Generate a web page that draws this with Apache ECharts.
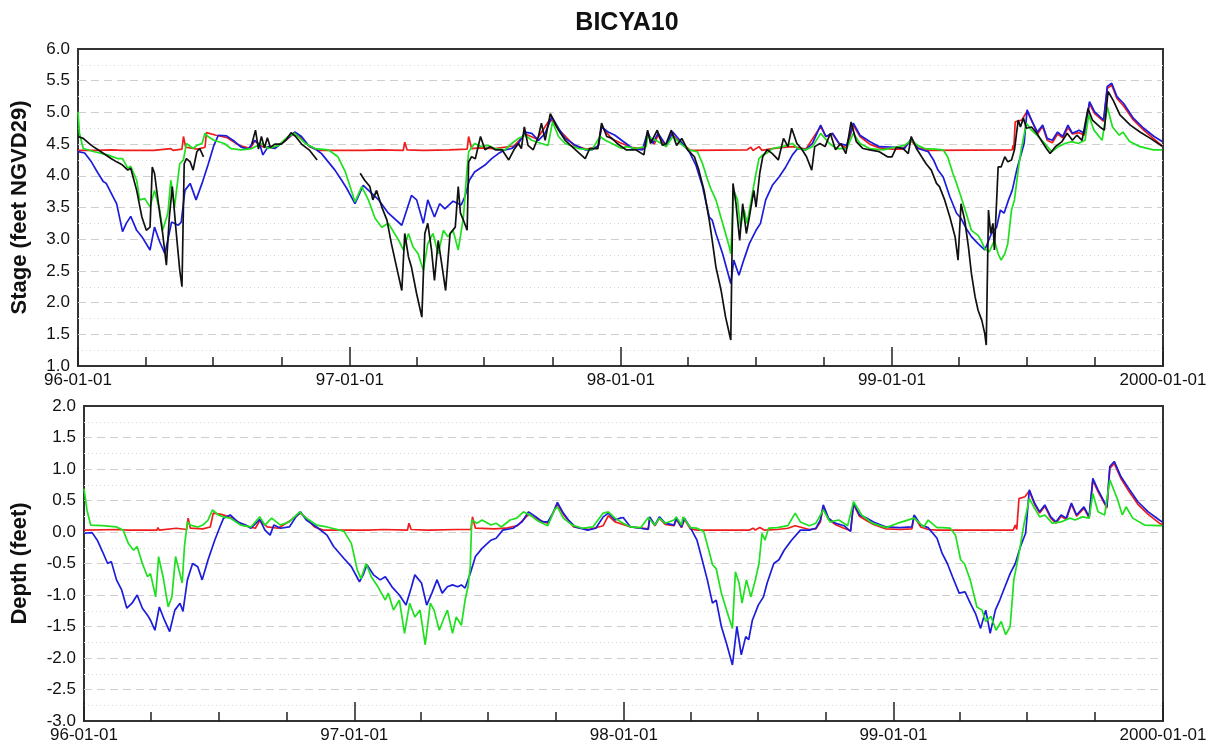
<!DOCTYPE html>
<html>
<head>
<meta charset="utf-8">
<title>BICYA10</title>
<script src="https://cdn.jsdelivr.net/npm/echarts@6.0.0/dist/echarts.min.js"></script>
<style>
  html, body { margin: 0; padding: 0; background: #fff; }
  #chart { width: 1217px; height: 752px; }
</style>
</head>
<body>
<div id="chart"></div>
<script>
// tick positions on the date axis
const yearTicks = ['1996-01-01', '1997-01-01', '1998-01-01', '1999-01-01', '2000-01-01']
const quarterTicks = [
  '1996-01-01', '1996-04-01', '1996-07-01', '1996-10-01',
  '1997-01-01', '1997-04-01', '1997-07-01', '1997-10-01',
  '1998-01-01', '1998-04-01', '1998-07-01', '1998-10-01',
  '1999-01-01', '1999-04-01', '1999-07-01', '1999-10-01', '2000-01-01',
]

// stage (feet NGVD29), top panel
const stageRed = [
  ['1996-01-01', 4.40], ['1996-01-25', 4.40], ['1996-02-15', 4.41], ['1996-03-01', 4.40], ['1996-04-09', 4.40],
  ['1996-04-10', 4.43], ['1996-04-12', 4.40], ['1996-05-05', 4.43], ['1996-05-08', 4.40], ['1996-05-20', 4.42],
  ['1996-05-22', 4.62], ['1996-05-25', 4.45], ['1996-06-10', 4.42], ['1996-06-20', 4.45], ['1996-06-22', 4.68],
  ['1996-07-05', 4.64], ['1996-07-20', 4.60], ['1996-08-05', 4.48], ['1996-08-20', 4.43], ['1996-08-26', 4.55],
  ['1996-09-05', 4.46], ['1996-09-20', 4.44], ['1996-10-06', 4.55], ['1996-10-19', 4.68], ['1996-10-28', 4.60],
  ['1996-11-08', 4.46], ['1996-11-20', 4.40], ['1996-12-31', 4.40], ['1997-01-20', 4.40], ['1997-02-10', 4.41],
  ['1997-03-14', 4.40], ['1997-03-16', 4.53], ['1997-03-19', 4.41], ['1997-04-09', 4.40], ['1997-04-10', 4.43],
  ['1997-04-12', 4.40], ['1997-05-15', 4.41], ['1997-06-08', 4.42], ['1997-06-10', 4.62], ['1997-06-14', 4.43],
  ['1997-06-25', 4.44], ['1997-07-15', 4.43], ['1997-08-10', 4.47], ['1997-08-25', 4.66], ['1997-09-10', 4.58],
  ['1997-09-28', 4.90], ['1997-10-10', 4.72], ['1997-10-30', 4.48], ['1997-11-15', 4.42], ['1997-12-01', 4.45],
  ['1997-12-06', 4.78], ['1997-12-20', 4.58], ['1997-12-31', 4.52], ['1998-01-15', 4.45], ['1998-02-01', 4.42],
  ['1998-02-06', 4.66], ['1998-02-15', 4.50], ['1998-02-20', 4.64], ['1998-03-03', 4.46], ['1998-03-10', 4.66],
  ['1998-03-25', 4.50], ['1998-04-05', 4.40], ['1998-06-20', 4.41], ['1998-06-25', 4.45], ['1998-06-28', 4.40],
  ['1998-07-06', 4.46], ['1998-07-10', 4.40], ['1998-07-20', 4.42], ['1998-08-01', 4.44], ['1998-08-20', 4.46],
  ['1998-09-07', 4.42], ['1998-09-27', 4.78], ['1998-10-04', 4.62], ['1998-10-13', 4.66], ['1998-10-22', 4.50],
  ['1998-11-01', 4.44], ['1998-11-10', 4.80], ['1998-11-19', 4.62], ['1998-12-02', 4.50], ['1998-12-15', 4.44],
  ['1998-12-31', 4.42], ['1999-01-15', 4.42], ['1999-01-27', 4.55], ['1999-02-05', 4.44], ['1999-02-20', 4.40],
  ['1999-06-12', 4.41], ['1999-06-13', 4.48], ['1999-06-14', 4.41], ['1999-06-16', 4.85], ['1999-06-25', 4.88],
  ['1999-07-02', 5.02], ['1999-07-09', 4.85], ['1999-07-16', 4.66], ['1999-07-23', 4.78], ['1999-07-29', 4.56],
  ['1999-08-05', 4.52], ['1999-08-12', 4.66], ['1999-08-19', 4.60], ['1999-08-26', 4.76], ['1999-09-01', 4.66],
  ['1999-09-10', 4.68], ['1999-09-17', 4.64], ['1999-09-24', 5.14], ['1999-10-01', 4.98], ['1999-10-13', 4.86],
  ['1999-10-18', 5.38], ['1999-10-24', 5.43], ['1999-10-31', 5.22], ['1999-11-09', 5.10], ['1999-11-22', 4.88],
  ['1999-12-06', 4.72], ['1999-12-20', 4.58], ['1999-12-31', 4.47],
]

const stageBlue = [
  ['1996-01-01', 4.38], ['1996-01-10', 4.36], ['1996-01-19', 4.22], ['1996-01-28', 4.04], ['1996-02-04', 3.91],
  ['1996-02-08', 3.88], ['1996-02-15', 3.72], ['1996-02-22', 3.56], ['1996-03-01', 3.12], ['1996-03-06', 3.25],
  ['1996-03-12', 3.36], ['1996-03-20', 3.14], ['1996-03-27', 3.04], ['1996-04-07', 2.83], ['1996-04-13', 3.19],
  ['1996-04-20', 2.96], ['1996-04-27', 2.77], ['1996-05-06', 3.27], ['1996-05-15', 3.22], ['1996-05-19', 3.27],
  ['1996-05-24', 3.77], ['1996-05-31', 3.88], ['1996-06-08', 3.62], ['1996-06-16', 3.88], ['1996-06-24', 4.17],
  ['1996-07-02', 4.48], ['1996-07-08', 4.64], ['1996-07-19', 4.63], ['1996-07-30', 4.54], ['1996-08-08', 4.45],
  ['1996-08-17', 4.42], ['1996-08-26', 4.56], ['1996-09-02', 4.48], ['1996-09-06', 4.33], ['1996-09-13', 4.46],
  ['1996-09-22', 4.43], ['1996-10-06', 4.56], ['1996-10-19', 4.69], ['1996-10-28', 4.62], ['1996-11-06', 4.48],
  ['1996-11-17', 4.41], ['1996-11-24', 4.35], ['1996-12-03', 4.22], ['1996-12-12', 4.09], ['1996-12-21', 3.93],
  ['1996-12-28', 3.80], ['1997-01-08', 3.56], ['1997-01-19', 3.85], ['1997-01-28', 3.75], ['1997-02-09', 3.62],
  ['1997-02-22', 3.41], ['1997-03-12', 3.22], ['1997-03-25', 3.69], ['1997-04-01', 3.62], ['1997-04-10', 3.25],
  ['1997-04-16', 3.62], ['1997-04-25', 3.35], ['1997-05-02', 3.56], ['1997-05-09', 3.48], ['1997-05-20', 3.60],
  ['1997-05-31', 3.54], ['1997-06-05', 3.67], ['1997-06-11', 3.93], ['1997-06-18', 4.06], ['1997-07-02', 4.17],
  ['1997-07-11', 4.27], ['1997-07-20', 4.35], ['1997-07-29', 4.41], ['1997-08-07', 4.43], ['1997-08-16', 4.51],
  ['1997-08-25', 4.69], ['1997-09-03', 4.67], ['1997-09-12', 4.56], ['1997-09-21', 4.67], ['1997-09-30', 4.93],
  ['1997-10-09', 4.75], ['1997-10-18', 4.59], ['1997-11-01', 4.48], ['1997-11-14', 4.41], ['1997-11-23', 4.41],
  ['1997-12-02', 4.48], ['1997-12-06', 4.77], ['1997-12-15', 4.69], ['1997-12-24', 4.64], ['1998-01-02', 4.56],
  ['1998-01-17', 4.43], ['1998-01-30', 4.41], ['1998-02-06', 4.69], ['1998-02-13', 4.51], ['1998-02-20', 4.67],
  ['1998-03-03', 4.48], ['1998-03-12', 4.69], ['1998-03-25', 4.51], ['1998-04-03', 4.38], ['1998-04-12', 4.17],
  ['1998-04-21', 3.83], ['1998-04-30', 3.35], ['1998-05-04', 3.30], ['1998-05-09', 3.09], ['1998-05-18', 2.77],
  ['1998-05-29', 2.30], ['1998-06-02', 2.67], ['1998-06-09', 2.43], ['1998-06-16', 2.69], ['1998-06-23', 2.93],
  ['1998-07-02', 3.14], ['1998-07-08', 3.25], ['1998-07-15', 3.62], ['1998-07-24', 3.85], ['1998-08-02', 3.98],
  ['1998-08-11', 4.14], ['1998-08-20', 4.33], ['1998-08-27', 4.43], ['1998-09-07', 4.41], ['1998-09-16', 4.51],
  ['1998-09-27', 4.80], ['1998-10-04', 4.62], ['1998-10-13', 4.67], ['1998-10-22', 4.51], ['1998-11-01', 4.48],
  ['1998-11-10', 4.83], ['1998-11-19', 4.64], ['1998-12-02', 4.54], ['1998-12-15', 4.46], ['1999-01-05', 4.45],
  ['1999-01-18', 4.43], ['1999-01-27', 4.59], ['1999-02-05', 4.43], ['1999-02-19', 4.38], ['1999-02-26', 4.25],
  ['1999-03-04', 4.09], ['1999-03-11', 3.98], ['1999-03-20', 3.67], ['1999-03-29', 3.41], ['1999-04-04', 3.33],
  ['1999-04-11', 3.17], ['1999-04-18', 3.04], ['1999-04-27', 2.93], ['1999-05-06', 2.83], ['1999-05-15', 3.09],
  ['1999-05-22', 3.19], ['1999-05-27', 3.46], ['1999-06-01', 3.41], ['1999-06-07', 3.62], ['1999-06-12', 3.77],
  ['1999-06-18', 4.09], ['1999-06-23', 4.30], ['1999-06-28', 4.51], ['1999-07-02', 5.04], ['1999-07-09', 4.85],
  ['1999-07-16', 4.69], ['1999-07-23', 4.80], ['1999-07-29', 4.59], ['1999-08-05', 4.56], ['1999-08-12', 4.69],
  ['1999-08-19', 4.62], ['1999-08-26', 4.80], ['1999-09-01', 4.67], ['1999-09-10', 4.72], ['1999-09-17', 4.67],
  ['1999-09-24', 5.17], ['1999-10-01', 5.01], ['1999-10-13', 4.88], ['1999-10-18', 5.41], ['1999-10-24', 5.46],
  ['1999-10-31', 5.25], ['1999-11-09', 5.14], ['1999-11-22', 4.91], ['1999-12-06', 4.75], ['1999-12-20', 4.62],
  ['1999-12-31', 4.54],
]

const stageGreen = [
  ['1996-01-01', 5.01], ['1996-01-03', 4.67], ['1996-01-08', 4.43], ['1996-01-23', 4.38], ['1996-02-10', 4.33],
  ['1996-02-24', 4.27], ['1996-03-01', 4.27], ['1996-03-08', 4.12], ['1996-03-12', 4.15], ['1996-03-20', 3.93],
  ['1996-03-24', 3.62], ['1996-03-31', 3.64], ['1996-04-07', 3.51], ['1996-04-13', 3.77], ['1996-04-20', 3.46],
  ['1996-04-24', 3.14], ['1996-05-01', 3.41], ['1996-05-05', 3.93], ['1996-05-10', 3.51], ['1996-05-17', 4.19],
  ['1996-05-22', 4.25], ['1996-05-26', 4.51], ['1996-06-04', 4.43], ['1996-06-09', 4.48], ['1996-06-16', 4.51],
  ['1996-06-20', 4.67], ['1996-06-24', 4.62], ['1996-07-02', 4.56], ['1996-07-16', 4.51], ['1996-07-25', 4.43],
  ['1996-08-08', 4.41], ['1996-08-22', 4.43], ['1996-09-04', 4.51], ['1996-09-13', 4.43], ['1996-09-27', 4.48],
  ['1996-10-10', 4.62], ['1996-10-19', 4.67], ['1996-11-02', 4.51], ['1996-11-15', 4.43], ['1996-12-03', 4.41],
  ['1996-12-16', 4.30], ['1996-12-26', 4.06], ['1997-01-08', 3.59], ['1997-01-17', 3.83], ['1997-01-26', 3.62],
  ['1997-02-04', 3.33], ['1997-02-13', 3.19], ['1997-02-22', 3.25], ['1997-03-08', 2.98], ['1997-03-14', 2.83],
  ['1997-03-21', 3.09], ['1997-03-27', 2.88], ['1997-04-03', 2.77], ['1997-04-10', 2.51], ['1997-04-16', 2.93],
  ['1997-04-23', 3.09], ['1997-04-30', 2.77], ['1997-05-07', 3.14], ['1997-05-13', 3.04], ['1997-05-20', 3.14],
  ['1997-05-27', 2.83], ['1997-06-03', 3.35], ['1997-06-07', 3.98], ['1997-06-10', 4.38], ['1997-06-18', 4.51],
  ['1997-06-27', 4.46], ['1997-07-06', 4.48], ['1997-07-15', 4.43], ['1997-07-29', 4.41], ['1997-08-07', 4.51],
  ['1997-08-16', 4.59], ['1997-08-25', 4.64], ['1997-09-03', 4.56], ['1997-09-16', 4.51], ['1997-09-25', 4.48],
  ['1997-10-01', 4.85], ['1997-10-09', 4.62], ['1997-10-18', 4.51], ['1997-11-05', 4.43], ['1997-11-23', 4.41],
  ['1997-12-04', 4.62], ['1997-12-11', 4.56], ['1997-12-20', 4.51], ['1998-01-02', 4.43], ['1998-01-08', 4.46],
  ['1998-01-21', 4.43], ['1998-02-04', 4.46], ['1998-02-06', 4.62], ['1998-02-17', 4.56], ['1998-03-03', 4.46],
  ['1998-03-12', 4.62], ['1998-03-25', 4.48], ['1998-04-03', 4.41], ['1998-04-14', 4.38], ['1998-04-21', 4.19],
  ['1998-04-28', 3.93], ['1998-05-02', 3.80], ['1998-05-09', 3.62], ['1998-05-18', 3.25], ['1998-05-27', 2.88],
  ['1998-05-29', 2.77], ['1998-06-02', 3.77], ['1998-06-07', 3.62], ['1998-06-11', 3.19], ['1998-06-16', 3.46],
  ['1998-06-20', 3.25], ['1998-06-27', 3.72], ['1998-07-02', 4.04], ['1998-07-06', 4.27], ['1998-07-11', 4.33],
  ['1998-07-17', 4.36], ['1998-07-24', 4.43], ['1998-08-07', 4.46], ['1998-08-20', 4.51], ['1998-08-27', 4.43],
  ['1998-09-07', 4.41], ['1998-09-16', 4.46], ['1998-09-27', 4.67], ['1998-10-09', 4.51], ['1998-10-18', 4.43],
  ['1998-11-01', 4.43], ['1998-11-10', 4.67], ['1998-11-19', 4.51], ['1998-12-02', 4.43], ['1998-12-20', 4.41],
  ['1999-01-05', 4.45], ['1999-01-18', 4.48], ['1999-01-27', 4.56], ['1999-02-05', 4.48], ['1999-02-14', 4.43],
  ['1999-02-28', 4.42], ['1999-03-11', 4.41], ['1999-03-17', 4.30], ['1999-03-24', 4.04], ['1999-03-29', 3.88],
  ['1999-04-04', 3.67], ['1999-04-11', 3.41], ['1999-04-18', 3.14], ['1999-04-27', 3.06], ['1999-05-01', 2.98],
  ['1999-05-06', 2.85], ['1999-05-12', 2.80], ['1999-05-19', 2.98], ['1999-05-24', 2.77], ['1999-05-28', 2.67],
  ['1999-06-02', 2.77], ['1999-06-06', 2.93], ['1999-06-11', 3.46], ['1999-06-15', 3.62], ['1999-06-20', 4.09],
  ['1999-06-24', 4.41], ['1999-07-01', 4.83], ['1999-07-08', 4.72], ['1999-07-17', 4.62], ['1999-07-26', 4.51],
  ['1999-08-04', 4.38], ['1999-08-13', 4.46], ['1999-08-22', 4.51], ['1999-08-31', 4.54], ['1999-09-09', 4.51],
  ['1999-09-18', 4.56], ['1999-09-23', 4.96], ['1999-09-30', 4.72], ['1999-10-11', 4.56], ['1999-10-18', 5.09],
  ['1999-10-25', 4.77], ['1999-11-03', 4.64], ['1999-11-08', 4.69], ['1999-11-17', 4.54], ['1999-12-01', 4.46],
  ['1999-12-19', 4.41], ['1999-12-31', 4.41],
]

// '-' marks a gap in the record
const stageBlack = [
  ['1996-01-01', 4.62], ['1996-01-08', 4.59], ['1996-01-19', 4.48], ['1996-02-01', 4.38], ['1996-02-15', 4.27],
  ['1996-02-22', 4.22], ['1996-03-01', 4.17], ['1996-03-08', 4.09], ['1996-03-12', 4.12], ['1996-03-20', 3.77],
  ['1996-03-27', 3.35], ['1996-04-02', 3.14], ['1996-04-07', 3.19], ['1996-04-10', 4.14], ['1996-04-13', 4.04],
  ['1996-04-20', 3.41], ['1996-04-24', 3.09], ['1996-04-29', 2.59], ['1996-05-03', 3.35], ['1996-05-07', 3.83],
  ['1996-05-12', 3.14], ['1996-05-17', 2.51], ['1996-05-20', 2.25], ['1996-05-23', 4.19], ['1996-05-26', 4.27],
  ['1996-05-31', 4.22], ['1996-06-04', 4.09], ['1996-06-09', 4.38], ['1996-06-13', 4.43], ['1996-06-18', 4.30],
  ['1996-06-19', '-'],
  ['1996-08-22', 4.50], ['1996-08-27', 4.72], ['1996-08-31', 4.42], ['1996-09-04', 4.62], ['1996-09-08', 4.44],
  ['1996-09-12', 4.60], ['1996-09-16', 4.45], ['1996-09-22', 4.50], ['1996-10-01', 4.50], ['1996-10-08', 4.58],
  ['1996-10-14', 4.68], ['1996-10-20', 4.62], ['1996-10-28', 4.50], ['1996-11-08', 4.40], ['1996-11-18', 4.25],
  ['1996-11-19', '-'],
  ['1997-01-15', 4.04], ['1997-01-21', 3.93], ['1997-01-28', 3.83], ['1997-02-01', 3.62], ['1997-02-06', 3.77],
  ['1997-02-13', 3.51], ['1997-02-20', 3.30], ['1997-02-26', 2.93], ['1997-03-05', 2.56], ['1997-03-12', 2.19],
  ['1997-03-16', 3.09], ['1997-03-21', 2.72], ['1997-03-25', 2.56], ['1997-04-01', 2.14], ['1997-04-08', 1.77],
  ['1997-04-12', 3.09], ['1997-04-16', 3.25], ['1997-04-21', 2.83], ['1997-04-25', 2.35], ['1997-04-30', 2.98],
  ['1997-05-04', 2.67], ['1997-05-10', 2.19], ['1997-05-16', 3.09], ['1997-05-23', 3.19], ['1997-05-27', 3.83],
  ['1997-05-30', 3.41], ['1997-06-03', 3.30], ['1997-06-08', 3.14], ['1997-06-10', 4.22], ['1997-06-14', 4.30],
  ['1997-06-19', 4.27], ['1997-06-26', 4.62], ['1997-07-02', 4.41], ['1997-07-09', 4.46], ['1997-07-16', 4.41],
  ['1997-07-25', 4.41], ['1997-08-03', 4.25], ['1997-08-10', 4.41], ['1997-08-16', 4.51], ['1997-08-20', 4.43],
  ['1997-08-24', 4.77], ['1997-08-29', 4.48], ['1997-09-05', 4.41], ['1997-09-12', 4.62], ['1997-09-16', 4.83],
  ['1997-09-21', 4.56], ['1997-09-28', 4.98], ['1997-10-09', 4.72], ['1997-10-18', 4.56], ['1997-11-01', 4.41],
  ['1997-11-14', 4.27], ['1997-11-20', 4.43], ['1997-12-01', 4.43], ['1997-12-06', 4.83], ['1997-12-13', 4.62],
  ['1997-12-20', 4.59], ['1997-12-27', 4.51], ['1998-01-08', 4.41], ['1998-01-21', 4.41], ['1998-02-01', 4.33],
  ['1998-02-06', 4.72], ['1998-02-10', 4.51], ['1998-02-19', 4.72], ['1998-02-26', 4.48], ['1998-03-03', 4.51],
  ['1998-03-10', 4.72], ['1998-03-17', 4.48], ['1998-03-24', 4.59], ['1998-04-01', 4.41], ['1998-04-10', 4.30],
  ['1998-04-16', 4.09], ['1998-04-23', 3.77], ['1998-04-30', 3.30], ['1998-05-04', 2.98], ['1998-05-09', 2.56],
  ['1998-05-16', 2.19], ['1998-05-22', 1.77], ['1998-05-29', 1.41], ['1998-06-01', 3.88], ['1998-06-05', 3.56],
  ['1998-06-10', 2.98], ['1998-06-14', 3.56], ['1998-06-19', 3.09], ['1998-06-23', 3.35], ['1998-06-29', 3.77],
  ['1998-07-02', 3.51], ['1998-07-07', 4.04], ['1998-07-11', 4.30], ['1998-07-17', 4.41], ['1998-07-24', 4.35],
  ['1998-08-01', 4.25], ['1998-08-08', 4.59], ['1998-08-14', 4.46], ['1998-08-19', 4.75], ['1998-08-26', 4.51],
  ['1998-09-01', 4.43], ['1998-09-08', 4.30], ['1998-09-15', 4.09], ['1998-09-19', 4.46], ['1998-09-26', 4.51],
  ['1998-10-03', 4.46], ['1998-10-10', 4.67], ['1998-10-17', 4.41], ['1998-10-24', 4.51], ['1998-10-31', 4.35],
  ['1998-11-07', 4.85], ['1998-11-14', 4.54], ['1998-11-23', 4.43], ['1998-12-02', 4.41], ['1998-12-15', 4.38],
  ['1998-12-26', 4.30], ['1999-01-01', 4.30], ['1999-01-07', 4.45], ['1999-01-16', 4.43], ['1999-01-23', 4.35],
  ['1999-01-27', 4.62], ['1999-02-03', 4.43], ['1999-02-10', 4.30], ['1999-02-16', 4.19], ['1999-02-23', 4.09],
  ['1999-03-02', 3.88], ['1999-03-06', 3.83], ['1999-03-13', 3.62], ['1999-03-20', 3.35], ['1999-03-27', 3.04],
  ['1999-03-31', 2.67], ['1999-04-04', 3.56], ['1999-04-09', 3.30], ['1999-04-14', 2.88], ['1999-04-18', 2.46],
  ['1999-04-23', 2.09], ['1999-04-27', 1.88], ['1999-05-02', 1.72], ['1999-05-06', 1.51], ['1999-05-08', 1.33],
  ['1999-05-11', 3.46], ['1999-05-14', 3.09], ['1999-05-17', 3.25], ['1999-05-19', 2.83], ['1999-05-24', 4.14],
  ['1999-05-28', 4.14], ['1999-06-02', 4.30], ['1999-06-06', 4.22], ['1999-06-11', 4.25], ['1999-06-15', 4.41],
  ['1999-06-20', 4.88], ['1999-06-23', 4.77], ['1999-06-27', 4.91], ['1999-07-01', 4.75], ['1999-07-08', 4.77],
  ['1999-07-15', 4.67], ['1999-07-22', 4.54], ['1999-07-28', 4.43], ['1999-08-02', 4.35], ['1999-08-09', 4.46],
  ['1999-08-18', 4.54], ['1999-08-25', 4.67], ['1999-09-01', 4.56], ['1999-09-07', 4.64], ['1999-09-14', 4.56],
  ['1999-09-22', 5.06], ['1999-09-28', 4.88], ['1999-10-08', 4.77], ['1999-10-14', 4.72], ['1999-10-19', 5.33],
  ['1999-10-26', 5.19], ['1999-11-04', 4.96], ['1999-11-18', 4.80], ['1999-12-01', 4.69], ['1999-12-15', 4.59],
  ['1999-12-29', 4.48], ['1999-12-31', 4.47],
]

// depth (feet), bottom panel
const depthRed = [
  ['1996-01-01', 0.03], ['1996-02-15', 0.04], ['1996-03-01', 0.03], ['1996-04-09', 0.03], ['1996-04-10', 0.07],
  ['1996-04-12', 0.03], ['1996-05-05', 0.06], ['1996-05-07', 0.03], ['1996-05-19', 0.04], ['1996-05-21', 0.22],
  ['1996-05-24', 0.06], ['1996-06-10', 0.05], ['1996-06-20', 0.08], ['1996-06-24', 0.30], ['1996-07-05', 0.28],
  ['1996-07-20', 0.22], ['1996-08-05', 0.10], ['1996-08-20', 0.06], ['1996-08-26', 0.18], ['1996-09-05', 0.08],
  ['1996-09-20', 0.06], ['1996-10-06', 0.18], ['1996-10-20', 0.30], ['1996-10-28', 0.22], ['1996-11-08', 0.08],
  ['1996-11-20', 0.03], ['1996-12-31', 0.03], ['1997-01-20', 0.03], ['1997-02-10', 0.04], ['1997-03-14', 0.03],
  ['1997-03-16', 0.14], ['1997-03-19', 0.04], ['1997-04-09', 0.03], ['1997-04-10', 0.06], ['1997-04-12', 0.03],
  ['1997-05-20', 0.04], ['1997-06-08', 0.04], ['1997-06-10', 0.24], ['1997-06-14', 0.06], ['1997-07-10', 0.05],
  ['1997-07-25', 0.06], ['1997-08-10', 0.10], ['1997-08-25', 0.28], ['1997-09-10', 0.18], ['1997-09-20', 0.14],
  ['1997-10-03', 0.44], ['1997-10-11', 0.28], ['1997-10-25', 0.08], ['1997-11-15', 0.04], ['1997-12-04', 0.10],
  ['1997-12-11', 0.26], ['1997-12-20', 0.16], ['1997-12-31', 0.12], ['1998-01-10', 0.08], ['1998-02-03', 0.05],
  ['1998-02-05', 0.22], ['1998-02-12', 0.10], ['1998-02-18', 0.22], ['1998-02-26', 0.12], ['1998-03-10', 0.10],
  ['1998-03-13', 0.20], ['1998-03-20', 0.07], ['1998-03-24', 0.20], ['1998-04-01', 0.05], ['1998-04-10', 0.03],
  ['1998-06-20', 0.03], ['1998-06-25', 0.06], ['1998-06-28', 0.03], ['1998-07-04', 0.07], ['1998-07-10', 0.03],
  ['1998-07-28', 0.04], ['1998-08-11', 0.06], ['1998-08-21', 0.10], ['1998-09-09', 0.04], ['1998-09-18', 0.05],
  ['1998-09-24', 0.16], ['1998-09-28', 0.40], ['1998-10-05', 0.20], ['1998-10-14', 0.12], ['1998-10-26', 0.06],
  ['1998-11-04', 0.02], ['1998-11-08', 0.44], ['1998-11-16', 0.25], ['1998-11-26', 0.18], ['1998-12-05', 0.12],
  ['1998-12-22', 0.05], ['1999-01-10', 0.04], ['1999-01-26', 0.05], ['1999-01-29', 0.25], ['1999-02-07', 0.08],
  ['1999-02-17', 0.04], ['1999-03-01', 0.03], ['1999-06-12', 0.03], ['1999-06-15', 0.11], ['1999-06-17', 0.04],
  ['1999-06-20', 0.53], ['1999-06-28', 0.56], ['1999-07-04', 0.65], ['1999-07-11', 0.44], ['1999-07-18', 0.30],
  ['1999-07-25', 0.41], ['1999-08-02', 0.22], ['1999-08-09', 0.14], ['1999-08-16', 0.25], ['1999-08-23', 0.20],
  ['1999-08-30', 0.44], ['1999-09-06', 0.25], ['1999-09-16', 0.38], ['1999-09-23', 0.22], ['1999-09-28', 0.82],
  ['1999-10-05', 0.64], ['1999-10-17', 0.38], ['1999-10-21', 1.01], ['1999-10-27', 1.09], ['1999-11-05', 0.85],
  ['1999-11-14', 0.68], ['1999-11-28', 0.44], ['1999-12-12', 0.28], ['1999-12-27', 0.14], ['1999-12-31', 0.12],
]

const depthBlue = [
  ['1996-01-01', -0.02], ['1996-01-12', -0.01], ['1996-01-19', -0.13], ['1996-01-26', -0.31], ['1996-02-02', -0.50],
  ['1996-02-07', -0.47], ['1996-02-14', -0.76], ['1996-02-21', -0.92], ['1996-02-28', -1.21], ['1996-03-06', -1.13],
  ['1996-03-13', -1.00], ['1996-03-20', -1.21], ['1996-03-27', -1.32], ['1996-03-31', -1.40], ['1996-04-06', -1.56],
  ['1996-04-12', -1.19], ['1996-04-19', -1.40], ['1996-04-26', -1.58], ['1996-05-03', -1.24], ['1996-05-10', -1.13],
  ['1996-05-14', -1.26], ['1996-05-20', -0.76], ['1996-05-27', -0.50], ['1996-06-03', -0.55], ['1996-06-09', -0.76],
  ['1996-06-17', -0.44], ['1996-06-26', -0.13], ['1996-07-03', 0.08], ['1996-07-08', 0.22], ['1996-07-17', 0.27],
  ['1996-07-27', 0.16], ['1996-08-07', 0.11], ['1996-08-14', 0.06], ['1996-08-26', 0.20], ['1996-09-02', 0.03],
  ['1996-09-09', -0.05], ['1996-09-14', 0.11], ['1996-09-23', 0.06], ['1996-10-05', 0.08], ['1996-10-14', 0.24],
  ['1996-10-20', 0.32], ['1996-10-28', 0.19], ['1996-11-11', 0.08], ['1996-11-25', -0.05], ['1996-12-04', -0.23],
  ['1996-12-18', -0.42], ['1996-12-28', -0.55], ['1997-01-08', -0.79], ['1997-01-13', -0.68], ['1997-01-18', -0.52],
  ['1997-01-27', -0.68], ['1997-02-05', -0.76], ['1997-02-12', -0.71], ['1997-02-21', -0.87], ['1997-03-03', -1.00],
  ['1997-03-12', -1.16], ['1997-03-19', -0.89], ['1997-03-24', -0.68], ['1997-04-02', -0.81], ['1997-04-09', -1.16],
  ['1997-04-16', -0.97], ['1997-04-23', -0.76], ['1997-04-30', -0.97], ['1997-05-07', -0.87], ['1997-05-14', -0.84],
  ['1997-05-21', -0.87], ['1997-05-26', -0.84], ['1997-05-31', -0.89], ['1997-06-07', -0.66], ['1997-06-14', -0.39],
  ['1997-06-23', -0.26], ['1997-07-05', -0.13], ['1997-07-12', -0.10], ['1997-07-21', 0.03], ['1997-08-04', 0.06],
  ['1997-08-16', 0.16], ['1997-08-25', 0.32], ['1997-09-04', 0.24], ['1997-09-13', 0.16], ['1997-09-20', 0.16],
  ['1997-09-27', 0.30], ['1997-10-03', 0.47], ['1997-10-11', 0.30], ['1997-10-18', 0.19], ['1997-10-27', 0.08],
  ['1997-11-13', 0.03], ['1997-11-24', 0.06], ['1997-12-04', 0.24], ['1997-12-11', 0.30], ['1997-12-20', 0.19],
  ['1997-12-27', 0.22], ['1997-12-31', 0.23], ['1998-01-10', 0.08], ['1998-01-24', 0.06], ['1998-02-03', 0.04],
  ['1998-02-05', 0.24], ['1998-02-12', 0.11], ['1998-02-18', 0.24], ['1998-02-26', 0.14], ['1998-03-10', 0.11],
  ['1998-03-13', 0.22], ['1998-03-20', 0.08], ['1998-03-24', 0.22], ['1998-04-01', 0.07], ['1998-04-10', -0.13],
  ['1998-04-17', -0.44], ['1998-04-24', -0.76], ['1998-05-01', -1.13], ['1998-05-06', -1.08], ['1998-05-13', -1.50],
  ['1998-05-20', -1.77], ['1998-05-28', -2.11], ['1998-06-03', -1.50], ['1998-06-09', -1.95], ['1998-06-15', -1.66],
  ['1998-06-19', -1.71], ['1998-06-24', -1.40], ['1998-07-02', -1.16], ['1998-07-09', -1.03], ['1998-07-14', -0.81],
  ['1998-07-23', -0.50], ['1998-07-30', -0.44], ['1998-08-06', -0.29], ['1998-08-16', -0.13], ['1998-08-28', 0.03],
  ['1998-09-09', 0.03], ['1998-09-18', 0.06], ['1998-09-24', 0.19], ['1998-09-28', 0.43], ['1998-10-05', 0.22],
  ['1998-10-14', 0.14], ['1998-10-26', 0.10], ['1998-11-04', 0.01], ['1998-11-08', 0.46], ['1998-11-16', 0.27],
  ['1998-11-26', 0.22], ['1998-12-05', 0.16], ['1998-12-22', 0.08], ['1999-01-10', 0.07], ['1999-01-26', 0.08],
  ['1999-01-29', 0.27], ['1999-02-07', 0.11], ['1999-02-17', 0.07], ['1999-03-01', -0.10], ['1999-03-08', -0.34],
  ['1999-03-15', -0.50], ['1999-03-22', -0.71], ['1999-03-31', -0.97], ['1999-04-08', -0.95], ['1999-04-15', -1.13],
  ['1999-04-22', -1.29], ['1999-04-29', -1.53], ['1999-05-06', -1.24], ['1999-05-12', -1.61], ['1999-05-19', -1.24],
  ['1999-05-25', -1.08], ['1999-06-01', -0.87], ['1999-06-08', -0.66], ['1999-06-15', -0.50], ['1999-06-22', -0.23],
  ['1999-06-29', -0.02], ['1999-07-04', 0.67], ['1999-07-11', 0.46], ['1999-07-18', 0.32], ['1999-07-25', 0.43],
  ['1999-08-02', 0.24], ['1999-08-09', 0.16], ['1999-08-16', 0.27], ['1999-08-23', 0.22], ['1999-08-30', 0.46],
  ['1999-09-06', 0.27], ['1999-09-16', 0.40], ['1999-09-23', 0.24], ['1999-09-28', 0.85], ['1999-10-05', 0.67],
  ['1999-10-17', 0.40], ['1999-10-21', 1.04], ['1999-10-27', 1.12], ['1999-11-05', 0.88], ['1999-11-14', 0.72],
  ['1999-11-28', 0.48], ['1999-12-12', 0.32], ['1999-12-27', 0.19], ['1999-12-31', 0.16],
]

const depthGreen = [
  ['1996-01-01', 0.69], ['1996-01-05', 0.35], ['1996-01-10', 0.11], ['1996-01-26', 0.10], ['1996-02-14', 0.08],
  ['1996-02-23', 0.03], ['1996-03-01', -0.18], ['1996-03-08', -0.29], ['1996-03-13', -0.23], ['1996-03-20', -0.50],
  ['1996-03-27', -0.71], ['1996-03-31', -0.66], ['1996-04-07', -1.03], ['1996-04-11', -0.39], ['1996-04-17', -0.71],
  ['1996-04-24', -1.19], ['1996-04-29', -1.03], ['1996-05-04', -0.39], ['1996-05-13', -0.81], ['1996-05-16', -0.23],
  ['1996-05-20', 0.16], ['1996-05-24', 0.11], ['1996-06-03', 0.08], ['1996-06-10', 0.11], ['1996-06-17', 0.19],
  ['1996-06-23', 0.35], ['1996-07-01', 0.27], ['1996-07-08', 0.24], ['1996-07-17', 0.22], ['1996-07-31', 0.11],
  ['1996-08-14', 0.08], ['1996-08-26', 0.24], ['1996-09-02', 0.11], ['1996-09-11', 0.22], ['1996-09-23', 0.11],
  ['1996-10-05', 0.16], ['1996-10-19', 0.32], ['1996-10-28', 0.22], ['1996-11-11', 0.11], ['1996-11-25', 0.08],
  ['1996-12-09', 0.04], ['1996-12-18', 0.01], ['1996-12-28', -0.18], ['1997-01-05', -0.60], ['1997-01-10', -0.74],
  ['1997-01-17', -0.50], ['1997-01-24', -0.71], ['1997-02-02', -0.87], ['1997-02-12', -1.08], ['1997-02-16', -0.97],
  ['1997-02-23', -1.24], ['1997-03-03', -1.08], ['1997-03-10', -1.61], ['1997-03-17', -1.13], ['1997-03-24', -1.35],
  ['1997-03-31', -1.24], ['1997-04-07', -1.79], ['1997-04-14', -1.13], ['1997-04-19', -1.24], ['1997-04-26', -1.56],
  ['1997-05-03', -1.35], ['1997-05-07', -1.24], ['1997-05-14', -1.61], ['1997-05-19', -1.35], ['1997-05-26', -1.48],
  ['1997-05-31', -1.08], ['1997-06-04', -0.87], ['1997-06-07', -0.55], ['1997-06-09', 0.19], ['1997-06-16', 0.14],
  ['1997-06-23', 0.19], ['1997-07-05', 0.11], ['1997-07-12', 0.14], ['1997-07-19', 0.08], ['1997-07-31', 0.19],
  ['1997-08-09', 0.22], ['1997-08-18', 0.32], ['1997-08-28', 0.26], ['1997-09-06', 0.18], ['1997-09-20', 0.10],
  ['1997-09-29', 0.35], ['1997-10-03', 0.40], ['1997-10-11', 0.22], ['1997-10-23', 0.11], ['1997-11-06', 0.06],
  ['1997-11-20', 0.08], ['1997-12-04', 0.30], ['1997-12-11', 0.32], ['1997-12-20', 0.22], ['1997-12-31', 0.14],
  ['1998-01-10', 0.08], ['1998-01-24', 0.07], ['1998-02-03', 0.23], ['1998-02-12', 0.11], ['1998-02-18', 0.22],
  ['1998-02-26', 0.14], ['1998-03-10', 0.19], ['1998-03-13', 0.24], ['1998-03-20', 0.11], ['1998-03-22', 0.24],
  ['1998-04-01', 0.07], ['1998-04-10', 0.06], ['1998-04-19', 0.01], ['1998-04-26', -0.29], ['1998-05-01', -0.52],
  ['1998-05-06', -0.58], ['1998-05-13', -0.97], ['1998-05-20', -1.24], ['1998-05-28', -1.53], ['1998-06-01', -0.63],
  ['1998-06-06', -0.81], ['1998-06-10', -1.13], ['1998-06-16', -0.76], ['1998-06-22', -1.03], ['1998-06-28', -0.76],
  ['1998-07-03', -0.50], ['1998-07-07', -0.02], ['1998-07-11', -0.13], ['1998-07-16', 0.06], ['1998-07-28', 0.07],
  ['1998-08-11', 0.10], ['1998-08-21', 0.30], ['1998-08-28', 0.16], ['1998-09-09', 0.10], ['1998-09-18', 0.14],
  ['1998-09-28', 0.35], ['1998-10-07', 0.16], ['1998-10-19', 0.19], ['1998-10-31', 0.10], ['1998-11-08', 0.48],
  ['1998-11-19', 0.27], ['1998-12-03', 0.14], ['1998-12-22', 0.07], ['1999-01-07', 0.14], ['1999-01-29', 0.22],
  ['1999-02-11', 0.08], ['1999-02-17', 0.19], ['1999-03-01', 0.07], ['1999-03-08', 0.07], ['1999-03-19', 0.06],
  ['1999-03-26', -0.05], ['1999-04-02', -0.44], ['1999-04-07', -0.50], ['1999-04-15', -0.76], ['1999-04-24', -1.19],
  ['1999-05-01', -1.24], ['1999-05-06', -1.42], ['1999-05-13', -1.34], ['1999-05-20', -1.56], ['1999-05-27', -1.42],
  ['1999-06-02', -1.63], ['1999-06-08', -1.50], ['1999-06-13', -0.76], ['1999-06-20', -0.34], ['1999-06-27', 0.14],
  ['1999-07-04', 0.53], ['1999-07-11', 0.38], ['1999-07-18', 0.24], ['1999-07-25', 0.27], ['1999-08-04', 0.14],
  ['1999-08-16', 0.16], ['1999-08-28', 0.22], ['1999-09-04', 0.19], ['1999-09-14', 0.24], ['1999-09-23', 0.22],
  ['1999-09-28', 0.61], ['1999-10-05', 0.32], ['1999-10-14', 0.27], ['1999-10-21', 0.83], ['1999-10-31', 0.53],
  ['1999-11-07', 0.27], ['1999-11-12', 0.40], ['1999-11-21', 0.22], ['1999-12-07', 0.11], ['1999-12-27', 0.10],
  ['1999-12-31', 0.10],
]

const FONT = '"Liberation Sans", Arial, Helvetica, sans-serif'
const RED = '#f01c1c'
const BLUE = '#1c1cdc'
const GREEN = '#1fe01f'
const BLACK = '#111111'

// 'YYYY-MM-DD' -> local timestamp
function toTime(s) {
  const [y, m, d] = s.split('-').map(Number)
  return new Date(y, m - 1, d).getTime()
}

function pad(n) {
  return n < 10 ? '0' + n : String(n)
}

function dateLabel(val) {
  const d = new Date(val)
  const y = d.getFullYear()
  const yy = y < 2000 ? String(y).slice(2) : String(y)
  return yy + '-' + pad(d.getMonth() + 1) + '-' + pad(d.getDate())
}

// dates on a plain value axis, so custom tick positions work
function toPoints(rows) {
  return rows.map(([d, v]) => [toTime(d), v])
}

const xMin = toTime('1996-01-01')
const xMax = toTime('2000-01-01')
const yearValues = yearTicks.map(toTime)
const quarterValues = quarterTicks.map(toTime)

function mainXAxis(gridIndex) {
  return {
    type: 'value',
    gridIndex,
    position: 'bottom',
    min: xMin,
    max: xMax,
    axisLine: { show: false, onZero: false },
    splitLine: { show: false },
    axisTick: {
      show: true,
      inside: true,
      length: 9,
      customValues: quarterValues,
      lineStyle: { color: '#222', width: 1.5 },
    },
    axisLabel: {
      customValues: yearValues,
      formatter: dateLabel,
      color: '#111',
      fontFamily: FONT,
      fontSize: 17,
      margin: 6,
      showMinLabel: true,
      showMaxLabel: true,
    },
  }
}

function yearTickAxis(gridIndex) {
  return {
    type: 'value',
    gridIndex,
    position: 'bottom',
    min: xMin,
    max: xMax,
    axisLine: { show: false, onZero: false },
    splitLine: { show: false },
    axisLabel: { show: false },
    axisTick: {
      show: true,
      inside: true,
      length: 19,
      customValues: yearValues,
      lineStyle: { color: '#222', width: 1.5 },
    },
  }
}

function valueAxis(gridIndex, min, max, name, nameGap) {
  return {
    type: 'value',
    gridIndex,
    min,
    max,
    interval: 0.5,
    name,
    nameLocation: 'middle',
    nameRotate: 90,
    nameGap,
    nameTextStyle: { fontFamily: FONT, fontSize: 22, fontWeight: 'bold', color: '#111' },
    axisLine: { show: false, onZero: false },
    axisTick: { show: false },
    minorTick: { show: false, splitNumber: 2 },
    axisLabel: {
      formatter: (v) => v.toFixed(1),
      color: '#111',
      fontFamily: FONT,
      fontSize: 17,
      margin: 8,
    },
    splitLine: {
      show: true,
      showMinLine: false,
      showMaxLine: false,
      lineStyle: { color: '#cfcfcf', type: [8, 5], width: 1 },
    },
    minorSplitLine: { show: true, lineStyle: { color: '#d6d6d6', type: [1, 3], width: 1 } },
  }
}

function line(rows, color, xAxisIndex, yAxisIndex) {
  return {
    type: 'line',
    data: toPoints(rows),
    xAxisIndex,
    yAxisIndex,
    showSymbol: false,
    symbol: 'none',
    connectNulls: false,
    lineStyle: { color, width: 1.7 },
    itemStyle: { color },
    silent: true,
  }
}

const chart = echarts.init(document.getElementById('chart'))

chart.setOption({
  animation: false,
  backgroundColor: '#ffffff',
  title: {
    text: 'BICYA10',
    left: 622,
    top: 6,
    textAlign: 'center',
    textStyle: { fontFamily: FONT, fontSize: 25, fontWeight: 'bold', color: '#111' },
  },
  grid: [
    { left: 78, top: 49, width: 1085, height: 317, show: true, borderColor: '#333', borderWidth: 2, backgroundColor: 'transparent' },
    { left: 84, top: 406, width: 1079, height: 315, show: true, borderColor: '#333', borderWidth: 2, backgroundColor: 'transparent' },
  ],
  xAxis: [mainXAxis(0), yearTickAxis(0), mainXAxis(1), yearTickAxis(1)],
  yAxis: [
    valueAxis(0, 1, 6, 'Stage (feet NGVD29)', 47),
    valueAxis(1, -3, 2, 'Depth (feet)', 53),
  ],
  series: [
    line(stageRed, RED, 0, 0),
    line(stageBlue, BLUE, 0, 0),
    line(stageGreen, GREEN, 0, 0),
    line(stageBlack, BLACK, 0, 0),
    line(depthRed, RED, 2, 1),
    line(depthBlue, BLUE, 2, 1),
    line(depthGreen, GREEN, 2, 1),
  ],
})

window.addEventListener('resize', () => chart.resize())
</script>
</body>
</html>
